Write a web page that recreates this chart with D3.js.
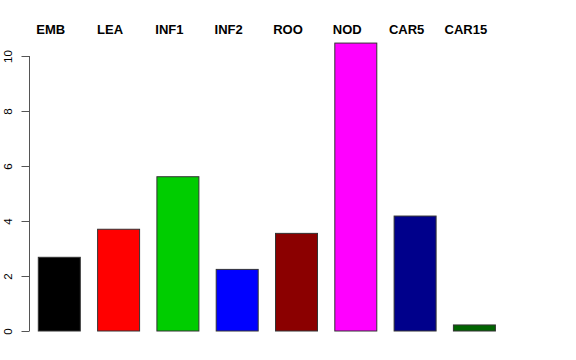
<!DOCTYPE html>
<html>
<head>
<meta charset="utf-8">
<script src="https://cdn.jsdelivr.net/npm/d3@7"></script>
<style>
  html, body { margin: 0; padding: 0; background: #fff; }
  svg { display: block; }
  text { font-family: "Liberation Sans", Arial, Helvetica, sans-serif; }
</style>
</head>
<body>
<svg id="chart" width="576" height="360"></svg>
<script>
const categories = ["EMB", "LEA", "INF1", "INF2", "ROO", "NOD", "CAR5", "CAR15"];
const values = [2.68, 3.70, 5.61, 2.24, 3.55, 10.47, 4.18, 0.22];
const colors = ["#000000", "#FF0000", "#00CD00", "#0000FF", "#8B0000", "#FF00FF", "#00008B", "#006400"];
const yTicks = [0, 2, 4, 6, 8, 10];

const svg = d3.select("#chart");

const x = d3.scaleBand()
  .domain(categories)
  .range([38.3, 495.4])
  .paddingInner(0.292)
  .paddingOuter(0);

const y = d3.scaleLinear()
  .domain([0, 10])
  .range([331, 56]);

// bars
svg.append("g")
  .selectAll("rect")
  .data(categories)
  .join("rect")
  .attr("x", d => x(d))
  .attr("y", (d, i) => y(values[i]))
  .attr("width", x.bandwidth())
  .attr("height", (d, i) => y(0) - y(values[i]))
  .attr("fill", (d, i) => colors[i])
  .attr("stroke", "#333333")
  .attr("stroke-width", 1);

// y axis
const yAxis = d3.axisLeft(y)
  .tickValues(yTicks)
  .tickSize(8)
  .tickPadding(0)
  .tickFormat(d3.format("d"));

const gy = svg.append("g")
  .attr("transform", "translate(29.5,0)")
  .call(yAxis);
gy.select(".domain").attr("stroke", "#555555").attr("d", `M-8,${y(0)}H0V${y(10)}H-8`)
  .attr("d", `M0,${y(0)}V${y(10)}`);
gy.selectAll(".tick line").attr("stroke", "#555555");
gy.selectAll(".tick text")
  .attr("x", null).attr("y", null).attr("dy", null)
  .attr("transform", "translate(-17.5,0) rotate(-90)")
  .attr("text-anchor", "middle")
  .attr("fill", "#000")
  .style("font-size", "11.5px")
  .style("font-family", "'Liberation Sans', Arial, sans-serif");

// top category labels
svg.append("g")
  .selectAll("text")
  .data(categories)
  .join("text")
  .attr("x", d => x(d) + x.bandwidth() / 2 - 8.5)
  .attr("y", 34)
  .attr("text-anchor", "middle")
  .style("font-size", "13px")
  .style("font-weight", "bold")
  .attr("fill", "#000")
  .text(d => d);
</script>
</body>
</html>
